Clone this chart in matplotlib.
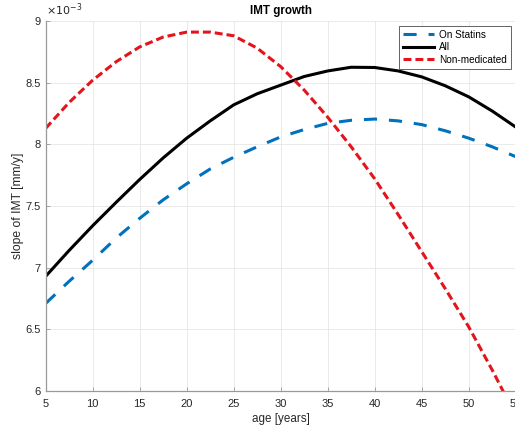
import matplotlib.pyplot as plt
from matplotlib.ticker import FuncFormatter

# values (slope in units of 1e-3 mm/y)
age = [5, 7.5, 10, 12.5, 15, 17.5, 20, 22.5, 25, 27.5, 30, 32.5, 35,
       37.5, 40, 42.5, 45, 47.5, 50, 52.5, 55]
on_statins = [6.71, 6.89, 7.06, 7.24, 7.40, 7.55, 7.68, 7.80, 7.895, 7.98, 8.06,
              8.12, 8.17, 8.195, 8.205, 8.19, 8.16, 8.11, 8.05, 7.98, 7.90]
all_pat = [6.93, 7.14, 7.34, 7.53, 7.715, 7.89, 8.05, 8.19, 8.32, 8.41, 8.48,
           8.55, 8.595, 8.625, 8.623, 8.595, 8.547, 8.475, 8.385, 8.27, 8.14]
non_med = [8.13, 8.34, 8.52, 8.67, 8.79, 8.87, 8.91, 8.91, 8.88, 8.78, 8.63,
           8.44, 8.22, 7.98, 7.72, 7.43, 7.13, 6.83, 6.52, 6.17, 5.80]
xticks = [5, 10, 15, 20, 25, 30, 35, 40, 45, 50, 55]
yticks = [6, 6.5, 7, 7.5, 8, 8.5, 9]

plt.rcParams['font.family'] = ['Liberation Sans', 'DejaVu Sans']

fig = plt.figure(figsize=(5.15, 4.26), dpi=100)
ax = fig.add_axes([0.0887, 0.0822, 0.9127, 0.8685])

lw = 2.2
ax.plot(age, [v * 1e-3 for v in on_statins], color='#0072BD', lw=lw,
        ls=(0, (4.3, 3.9)), label='On Statins')
ax.plot(age, [v * 1e-3 for v in all_pat], color='black', lw=lw, label='All')
ax.plot(age, [v * 1e-3 for v in non_med], color='#E3141C', lw=lw,
        ls=(0, (2.6, 1.3)), label='Non-medicated')

ax.set_xlim(5, 55)
ax.set_ylim(6e-3, 9e-3)
ax.set_xticks(xticks)
ax.set_yticks([v * 1e-3 for v in yticks])
ax.yaxis.set_major_formatter(FuncFormatter(lambda v, p: f'{v * 1e3:g}'))
ax.text(0.0, 1.008, r'$\times10^{-3}$', transform=ax.transAxes,
        ha='left', va='bottom', fontsize=8, color='#262626')

ax.grid(True, color='#e6e6e6', lw=0.6)
ax.set_axisbelow(True)
for s in ['top', 'right']:
    ax.spines[s].set_visible(False)
for s in ['left', 'bottom']:
    ax.spines[s].set_color('#999999')
    ax.spines[s].set_linewidth(0.9)
ax.tick_params(direction='in', length=3, width=0.6, color='#999999',
               labelsize=8, labelcolor='#262626')
ax.tick_params(axis='x', pad=5.5)
ax.tick_params(axis='y', pad=3.5)

ax.set_xlabel('age [years]', fontsize=8.4, color='#262626', labelpad=3.5)
ax.set_ylabel('slope of IMT [mm/y]', fontsize=8.7, color='#262626', labelpad=1)
ax.set_title('IMT growth', fontsize=8.4, fontweight='bold', pad=5)

leg = ax.legend(loc='upper right', fontsize=7.2, handlelength=3.1,
                handletextpad=0.5, labelspacing=0.25, borderpad=0.4,
                borderaxespad=0.45, fancybox=False, framealpha=1)
leg.get_frame().set_edgecolor('#262626')
leg.get_frame().set_linewidth(0.5)

plt.savefig('out.png', dpi=100)
